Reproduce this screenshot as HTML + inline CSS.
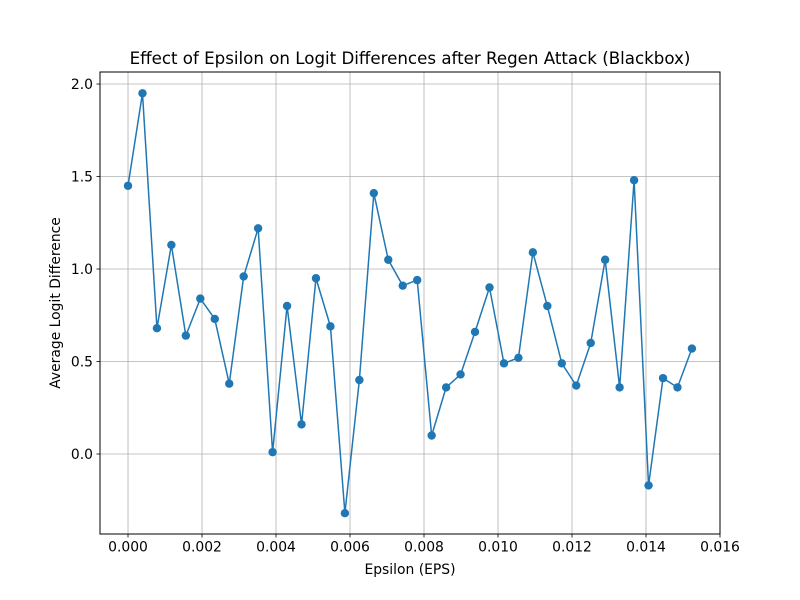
<!DOCTYPE html>
<html>
<head>
<meta charset="utf-8">
<style>
  html, body { margin: 0; padding: 0; background: #fff; }
  svg { display: block; font-family: "DejaVu Sans", "Liberation Sans", sans-serif; }
</style>
</head>
<body>
<svg id="chart" width="800" height="600" viewBox="0 0 800 600">
  <rect x="0" y="0" width="800" height="600" fill="#fff"/>
  <text x="410" y="64" text-anchor="middle" font-size="16.67" fill="#000">Effect of Epsilon on Logit Differences after Regen Attack (Blackbox)</text>
  <g id="grid"></g>
  <g id="ticks"></g>
  <g id="series"></g>
  <rect x="100" y="72" width="620" height="462" fill="none" stroke="#000" stroke-width="1"/>
  <text x="410" y="574" text-anchor="middle" font-size="13.9" fill="#000">Epsilon (EPS)</text>
  <text x="0" y="0" transform="translate(60,303) rotate(-90)" text-anchor="middle" font-size="13.9" fill="#000">Average Logit Difference</text>
</svg>
<script>
const epsValues = [0.0000,0.000391,0.000782,0.001172,0.001563,0.001954,0.002345,0.002736,0.003126,0.003517,0.003908,0.004299,0.004690,0.005080,0.005471,0.005862,0.006253,0.006644,0.007034,0.007425,0.007816,0.008207,0.008598,0.008988,0.009379,0.009770,0.010161,0.010552,0.010942,0.011333,0.011724,0.012115,0.012506,0.012896,0.013287,0.013678,0.014069,0.014460,0.014850,0.015241];
const logitDiffs = [1.45,1.95,0.68,1.13,0.64,0.84,0.73,0.38,0.96,1.22,0.01,0.80,0.16,0.95,0.69,-0.32,0.40,1.41,1.05,0.91,0.94,0.10,0.36,0.43,0.66,0.90,0.49,0.52,1.09,0.80,0.49,0.37,0.60,1.05,0.36,1.48,-0.17,0.41,0.36,0.57];
const xTicks = [0.000,0.002,0.004,0.006,0.008,0.010,0.012,0.014,0.016];
const yTicks = [0.0,0.5,1.0,1.5,2.0];

const NS = "http://www.w3.org/2000/svg";
const L = 100, R = 720, T = 72, B = 534;
const xMin = -0.000757, xMax = 0.016;
const yMin = -0.4325, yMax = 2.065;
function sx(v) { return L + (v - xMin) / (xMax - xMin) * (R - L); }
function sy(v) { return B - (v - yMin) / (yMax - yMin) * (B - T); }
function mk(tag, attrs, parent) {
  const e = document.createElementNS(NS, tag);
  for (const k in attrs) e.setAttribute(k, attrs[k]);
  parent.appendChild(e);
  return e;
}
const grid = document.getElementById('grid');
const ticks = document.getElementById('ticks');
const series = document.getElementById('series');

xTicks.forEach(v => {
  const x = sx(v);
  const g = mk('line', {x1:x, x2:x, y1:T, y2:B, stroke:'#b0b0b0', 'stroke-width':0.8}, grid);
  
  
  const t = mk('line', {x1:x, x2:x, y1:B, y2:B+3.5, stroke:'#000', 'stroke-width':0.8}, ticks);
  
  
  const lb = mk('text', {x:x, y:B+17.5, 'text-anchor':'middle', 'font-size':13.9, fill:'#000'}, ticks);
  lb.textContent = v.toFixed(3);
  
  
});
yTicks.forEach(v => {
  const y = sy(v);
  const g = mk('line', {x1:L, x2:R, y1:y, y2:y, stroke:'#b0b0b0', 'stroke-width':0.8}, grid);
  
  
  const t = mk('line', {x1:L-3.5, x2:L, y1:y, y2:y, stroke:'#000', 'stroke-width':0.8}, ticks);
  
  
  const lb = mk('text', {x:L-7, y:y+5, 'text-anchor':'end', 'font-size':13.9, fill:'#000'}, ticks);
  lb.textContent = v.toFixed(1);
  
  
});

const pts = epsValues.map((e, i) => sx(e).toFixed(2) + ',' + sy(logitDiffs[i]).toFixed(2)).join(' ');
const pl = mk('polyline', {points:pts, fill:'none', stroke:'#1f77b4', 'stroke-width':1.5, 'stroke-linejoin':'round'}, series);


epsValues.forEach((e, i) => {
  const c = mk('circle', {cx:sx(e), cy:sy(logitDiffs[i]), r:4.2, fill:'#1f77b4'}, series);
  
  
});
</script>
</body>
</html>
